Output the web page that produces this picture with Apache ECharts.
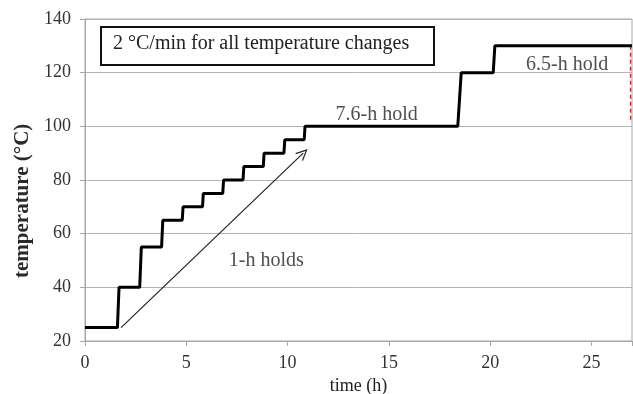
<!DOCTYPE html>
<html>
<head>
<meta charset="utf-8">
<script src="https://cdn.jsdelivr.net/npm/echarts@6/dist/echarts.min.js"></script>
<style>
  html, body { margin: 0; padding: 0; background: #fff; }
  #chart { width: 633px; height: 394px; }
</style>
</head>
<body>
<div id="chart"></div>
<script>
// Heating profile: vertices of the temperature programme (h, °C)
var profileTime = [0, 1.6, 1.68, 2.7, 2.78, 3.78, 3.84, 4.8, 4.84, 5.8, 5.84, 6.8, 6.84, 7.8, 7.84, 8.8, 8.84, 9.82, 9.86, 10.82, 10.86, 18.4, 18.57, 20.15, 20.23, 27];
var profileTemp = [25, 25, 40, 40, 55, 55, 65, 65, 70, 70, 75, 75, 80, 80, 85, 85, 90, 90, 95, 95, 100, 100, 120, 120, 130, 130];

// Arrow across the 1-h hold staircase
var arrowStart = [1.78, 25];
var arrowEnd = [10.77, 90];

// Red dashed marker at the end of the final hold
var markerTime = [26.93, 26.93];
var markerTemp = [130, 102];

// Text annotations
var noteText = ['7.6-h hold', '6.5-h hold', '1-h holds'];
var noteTime = [14.4, 23.8, 8.95];
var noteTemp = [104.5, 122.8, 50];

var xTicks = [0, 5, 10, 15, 20, 25];
var yTicks = [20, 40, 60, 80, 100, 120, 140];

var serif = '"Liberation Serif", "Times New Roman", serif';

var profile = profileTime.map(function (t, i) { return [t, profileTemp[i]]; });
var marker = markerTime.map(function (t, i) { return [t, markerTemp[i]]; });
var notes = noteText.map(function (s, i) { return { value: [noteTime[i], noteTemp[i]], name: s }; });

var chart = echarts.init(document.getElementById('chart'), null, { renderer: 'canvas' });
chart.setOption({
  animation: false,
  backgroundColor: '#fff',
  grid: {
    left: 85, right: 1, top: 19, bottom: 53,
    outerBoundsMode: 'none', containLabel: false,
    show: true, borderColor: '#a6a6a6', borderWidth: 1
  },
  xAxis: {
    type: 'value', min: 0, max: 27, interval: 5,
    name: 'time (h)', nameLocation: 'middle', nameGap: 33,
    nameTextStyle: { fontFamily: serif, fontSize: 18, color: '#222' },
    axisLine: { lineStyle: { color: '#a6a6a6' } },
    axisTick: { show: true, length: 5, lineStyle: { color: '#a6a6a6' } },
    axisLabel: {
      fontFamily: serif, fontSize: 18, color: '#333', margin: 13,
      formatter: function (v) { return xTicks.indexOf(v) >= 0 ? String(v) : ''; }
    },
    splitLine: { show: false }
  },
  yAxis: {
    type: 'value', min: 20, max: 140, interval: 20,
    axisLine: { show: true, lineStyle: { color: '#a6a6a6' } },
    axisTick: { show: true, length: 5, lineStyle: { color: '#a6a6a6' } },
    axisLabel: {
      fontFamily: serif, fontSize: 18, color: '#333', margin: 14,
      formatter: function (v) { return yTicks.indexOf(v) >= 0 ? String(v) : ''; }
    },
    splitLine: { show: true, lineStyle: { color: '#b4b4b4', width: 1 } }
  },
  graphic: [
    {
      type: 'text', x: 12, y: 278, rotation: Math.PI / 2,
      style: {
        text: 'temperature (°C)', font: 'bold 21px ' + serif, fill: '#2a2a2a',
        align: 'left', verticalAlign: 'top'
      }
    },
    {
      type: 'rect', left: 100, top: 26,
      shape: { width: 333, height: 38 },
      style: { fill: '#fff', stroke: '#111', lineWidth: 2 }
    },
    {
      type: 'text', left: 113, top: 34,
      style: { text: '2 °C/min for all temperature changes', font: '20px ' + serif, fill: '#222' }
    }
  ],
  series: [
    {
      type: 'line', data: profile, symbol: 'none', z: 5,
      lineStyle: { color: '#000', width: 3 }
    },
    {
      type: 'line', data: marker, symbol: 'none', z: 4,
      lineStyle: { color: '#e02424', width: 1.5, type: [4, 3] }
    },
    {
      type: 'line', data: [], symbol: 'none',
      markLine: {
        silent: true, animation: false,
        symbol: ['none', 'path://M0,0 L-6,11 L-4.8,11.6 L0,2.6 L4.8,11.6 L6,11 Z'],
        symbolSize: [11, 12],
        label: { show: false },
        lineStyle: { color: '#222', width: 1.2, type: 'solid' },
        data: [[{ coord: arrowStart }, { coord: arrowEnd }]]
      }
    },
    {
      type: 'scatter', data: notes, symbolSize: 0, z: 6,
      label: {
        show: true, position: 'inside', formatter: '{b}',
        fontFamily: serif, fontSize: 20, color: '#222'
      }
    }
  ]
});
</script>
</body>
</html>
